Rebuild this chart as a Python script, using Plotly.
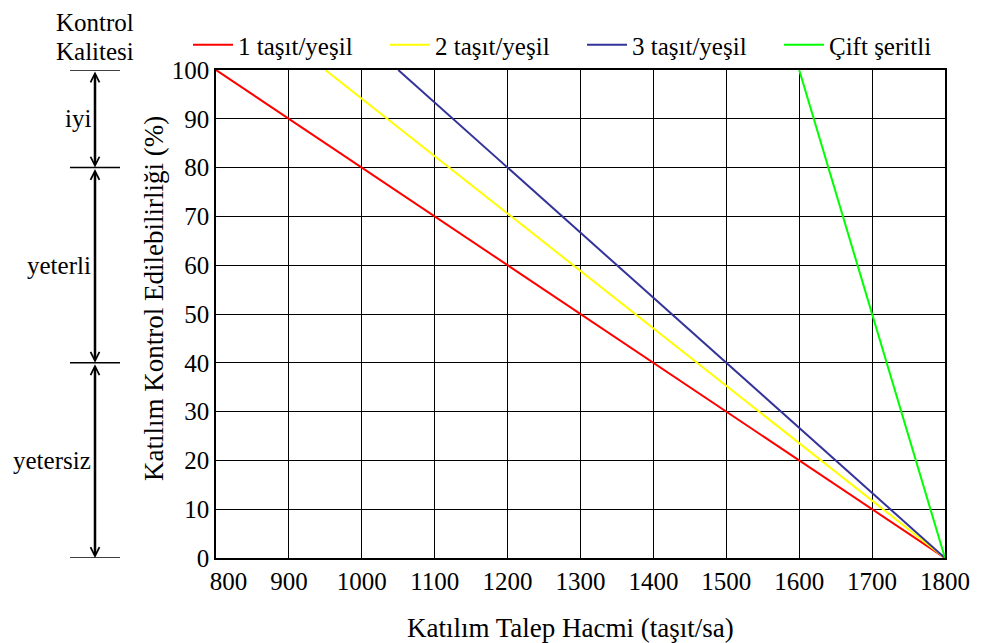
import plotly.graph_objects as go

series_names = ["1 taşıt/yeşil", "2 taşıt/yeşil", "3 taşıt/yeşil", "Çift şeritli"]
series_x = [[800, 1800], [950, 1800], [1050, 1800], [1600, 1800]]
series_y = [[100, 0], [100, 0], [100, 0], [100, 0]]
series_colors = ["#ff0000", "#ffff00", "#333399", "#00ff00"]

quality_title = ["Kontrol", "Kalitesi"]
quality_labels = ["iyi", "yeterli", "yetersiz"]
quality_bounds = [100, 80, 40, 0]

x_ticks = [800, 900, 1000, 1100, 1200, 1300, 1400, 1500, 1600, 1700, 1800]
y_ticks = [0, 10, 20, 30, 40, 50, 60, 70, 80, 90, 100]

x_title = "Katılım Talep Hacmi (taşıt/sa)"
y_title = "Katılım Kontrol Edilebilirliği (%)"

FONT = "Liberation Serif, Times New Roman, serif"
FS = 25
FT = 27

fig = go.Figure()
for name, xs, ys, c in zip(series_names, series_x, series_y, series_colors):
    fig.add_trace(go.Scatter(x=xs, y=ys, mode="lines", name=name,
                             line=dict(color=c, width=2)))

# page has an 8px body margin; figure coords = page coords - 8
OFF = 8
W, H = 982 - OFF, 643 - OFF
L, R, T, B = 216 - OFF, 37, 70 - OFF, 85
pw = W - L - R
ph = H - T - B


def px2paper(page_px):
    return (page_px - OFF - L) / pw


def py2paper(page_py):
    return 1 + (T - (page_py - OFF)) / ph


# left quality scale
for b in quality_bounds:
    fig.add_shape(type="line", xref="paper", yref="y",
                  x0=px2paper(70), x1=px2paper(120), y0=b, y1=b,
                  line=dict(color="black", width=1.5))

ax_x = px2paper(95)
for i, lab in enumerate(quality_labels):
    top, bot = quality_bounds[i], quality_bounds[i + 1]
    fig.add_annotation(xref="paper", yref="y", x=ax_x, y=bot,
                       axref="pixel", ayref="y", ax=0, ay=top,
                       showarrow=True, arrowhead=5, arrowside="end+start",
                       arrowwidth=2.5, arrowsize=0.7, arrowcolor="black", text="")
    fig.add_annotation(xref="paper", yref="y", x=px2paper(93), y=(top + bot) / 2,
                       text=lab, showarrow=False, xanchor="right", yanchor="middle",
                       font=dict(family=FONT, size=FS, color="black"))

fig.add_annotation(xref="paper", yref="paper", x=px2paper(95), y=py2paper(OFF),
                   text=quality_title[0], showarrow=False, xanchor="center", yanchor="top",
                   borderpad=0, font=dict(family=FONT, size=FS, color="black"))
fig.add_annotation(xref="paper", yref="paper", x=px2paper(95), y=py2paper(37),
                   text=quality_title[1], showarrow=False, xanchor="center", yanchor="top",
                   borderpad=0, font=dict(family=FONT, size=FS, color="black"))

# axis titles
fig.add_annotation(xref="paper", yref="paper", x=px2paper(570), y=py2paper(628),
                   text=x_title, showarrow=False, xanchor="center", yanchor="middle",
                   font=dict(family=FONT, size=FT, color="black"))
fig.add_annotation(xref="paper", yref="paper", x=px2paper(154), y=py2paper(299),
                   text=y_title, textangle=-90, showarrow=False, xanchor="center", yanchor="middle",
                   font=dict(family=FONT, size=FT, color="black"))

axis_common = dict(showgrid=True, gridcolor="black", gridwidth=1,
                   showline=True, linecolor="black", linewidth=1.5, mirror=True,
                   zeroline=False, ticks="", automargin=False,
                   tickfont=dict(family=FONT, size=FS, color="black"))

x_ticktext = [("\u2003" + str(v)) if v == x_ticks[0] else str(v) for v in x_ticks]

fig.update_xaxes(range=[800, 1800], tickvals=x_ticks, ticktext=x_ticktext, **axis_common)
fig.update_yaxes(range=[0, 100], tickvals=y_ticks, **axis_common)

fig.update_layout(
    width=W, height=H,
    margin=dict(l=L, r=R, t=T, b=B),
    plot_bgcolor="white", paper_bgcolor="white",
    font=dict(family=FONT, size=FS, color="black"),
    legend=dict(orientation="h", x=px2paper(188), y=py2paper(45),
                xanchor="left", yanchor="middle", entrywidth=142, entrywidthmode="pixels",
                font=dict(family=FONT, size=FS, color="black"),
                bgcolor="rgba(0,0,0,0)", itemwidth=40, tracegroupgap=0),
    showlegend=True,
)

fig.write_html("out.html")
